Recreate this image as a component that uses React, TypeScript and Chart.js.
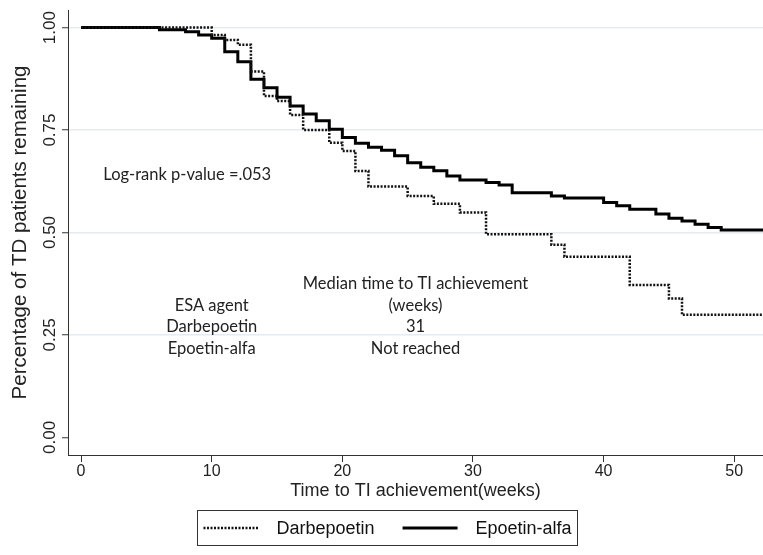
import React, { useEffect, useRef } from 'react';
import { Chart, registerables } from 'chart.js';

Chart.register(...registerables);

// Kaplan-Meier step data (time in weeks, proportion remaining)
const darbeTimes = [0, 10, 11, 12, 13, 14, 15, 16, 17, 19, 20, 21, 22, 25, 27, 29, 31, 36, 37, 42, 45, 46, 52.2];
const darbeSurv = [1.0, 0.982, 0.970, 0.958, 0.893, 0.833, 0.821, 0.787, 0.750, 0.719, 0.699, 0.650, 0.612, 0.589, 0.570, 0.549, 0.496, 0.470, 0.441, 0.372, 0.339, 0.299, 0.299];

const epoTimes = [0, 6, 8, 9, 10, 11, 12, 13, 14, 15, 16, 17, 18, 19, 20, 21, 22, 23, 24, 25, 26, 27, 28, 29, 31, 32, 33, 36, 37, 40, 41, 42, 44, 45, 46, 47, 48, 49, 52.2];
const epoSurv = [1.0, 0.995, 0.990, 0.982, 0.974, 0.941, 0.917, 0.874, 0.853, 0.830, 0.809, 0.789, 0.773, 0.752, 0.732, 0.718, 0.708, 0.701, 0.687, 0.670, 0.659, 0.651, 0.638, 0.628, 0.622, 0.616, 0.597, 0.589, 0.584, 0.573, 0.565, 0.557, 0.545, 0.535, 0.528, 0.520, 0.512, 0.506, 0.506];

const seriesNames = ['Darbepoetin', 'Epoetin-alfa'];
const xTicks = [0, 10, 20, 30, 40, 50];
const yTicks = [0, 0.25, 0.5, 0.75, 1.0];
const yTickLabels = ['0.00', '0.25', '0.50', '0.75', '1.00'];
const xTitle = 'Time to TI achievement(weeks)';
const yTitle = 'Percentage of TD patients remaining';

// In-plot annotations (data coordinates: week, proportion)
const noteTexts = ['Log-rank p-value =.053'];
const noteX = [1.7];
const noteY = [0.64];
const tableCol1 = ['ESA agent', 'Darbepoetin', 'Epoetin-alfa'];
const tableCol2 = ['Median time to TI achievement', '(weeks)', '31', 'Not reached'];
const tableCol1X = 10;
const tableCol2X = 25.6;
const tableCol1Y = [0.322, 0.269, 0.217];
const tableCol2Y = [0.376, 0.322, 0.269, 0.217];

const AXIS_FONT = "'Liberation Sans', Arial, sans-serif";
const NOTE_FONT = "Lato, 'Open Sans', sans-serif";

const toPoints = (xs: number[], ys: number[]) => xs.map((x, i) => ({ x, y: ys[i] }));

const overlayPlugin = {
  id: 'overlay',
  afterDraw(chart: any) {
    const ctx = chart.ctx as CanvasRenderingContext2D;
    const xs = chart.scales.x;
    const ys = chart.scales.y;
    ctx.save();
    // y tick labels (rotated)
    ctx.fillStyle = '#222';
    ctx.font = `17px ${AXIS_FONT}`;
    ctx.textAlign = 'center';
    ctx.textBaseline = 'middle';
    yTicks.forEach((v, i) => {
      const py = ys.getPixelForValue(v);
      ctx.save();
      ctx.translate(50, py);
      ctx.rotate(-Math.PI / 2);
      ctx.fillText(yTickLabels[i], 0, 0);
      ctx.restore();
    });

    // annotations
    ctx.font = `16.5px ${NOTE_FONT}`;
    ctx.fillStyle = '#222';
    ctx.textAlign = 'left';
    noteTexts.forEach((t, i) => {
      ctx.fillText(t, xs.getPixelForValue(noteX[i]), ys.getPixelForValue(noteY[i]));
    });
    ctx.textAlign = 'center';
    tableCol1.forEach((t, i) => {
      ctx.fillText(t, xs.getPixelForValue(tableCol1X), ys.getPixelForValue(tableCol1Y[i]));
    });
    tableCol2.forEach((t, i) => {
      ctx.fillText(t, xs.getPixelForValue(tableCol2X), ys.getPixelForValue(tableCol2Y[i]));
    });

    // legend
    ctx.font = `18px ${AXIS_FONT}`;
    ctx.textAlign = 'left';
    ctx.textBaseline = 'middle';
    const sampleW = 55;
    const gap1 = 18;
    const gap2 = 28;
    const pad = 6;
    const w0 = ctx.measureText(seriesNames[0]).width;
    const w1 = ctx.measureText(seriesNames[1]).width;
    const boxW = Math.round(pad + sampleW + gap1 + w0 + gap2 + sampleW + gap1 + w1 + pad);
    const cx = 387;
    const bx = Math.round(cx - boxW / 2) + 0.5;
    const by = 510.5;
    const bh = 35;
    ctx.strokeStyle = '#333';
    ctx.lineWidth = 1;
    ctx.strokeRect(bx, by, boxW, bh);
    const my = by + bh / 2;
    let px = bx + pad;
    ctx.strokeStyle = '#111';
    ctx.lineWidth = 2.5;
    ctx.setLineDash([2, 1.5]);
    ctx.beginPath();
    ctx.moveTo(px, my);
    ctx.lineTo(px + sampleW, my);
    ctx.stroke();
    ctx.setLineDash([]);
    px += sampleW + gap1;
    ctx.fillStyle = '#111';
    ctx.fillText(seriesNames[0], px, my + 1);
    px += w0 + gap2;
    ctx.strokeStyle = '#000';
    ctx.lineWidth = 3;
    ctx.beginPath();
    ctx.moveTo(px, my);
    ctx.lineTo(px + sampleW, my);
    ctx.stroke();
    px += sampleW + gap1;
    ctx.fillText(seriesNames[1], px, my + 1);
    ctx.restore();
  },
};

export default function App() {
  const ref = useRef<HTMLCanvasElement>(null);
  useEffect(() => {
    if (!ref.current) return;
    const chart = new Chart(ref.current, {
      type: 'line',
      data: {
        datasets: [
          {
            label: seriesNames[0],
            data: toPoints(darbeTimes, darbeSurv),
            borderColor: '#111',
            borderWidth: 2.5,
            borderDash: [2, 1.5],
            stepped: 'before',
            pointRadius: 0,
            fill: false,
          },
          {
            label: seriesNames[1],
            data: toPoints(epoTimes, epoSurv),
            borderColor: '#000',
            borderWidth: 3,
            stepped: 'before',
            pointRadius: 0,
            fill: false,
          },
        ],
      },
      options: {
        animation: false,
        responsive: false,
        maintainAspectRatio: false,
        devicePixelRatio: 1,
        layout: { padding: { top: 10, left: 0, right: 0, bottom: 50 } },
        plugins: { legend: { display: false }, tooltip: { enabled: false } },
        scales: {
          x: {
            type: 'linear',
            min: -1,
            max: 52.2,
            afterBuildTicks: (s: any) => {
              s.ticks = xTicks.map((v) => ({ value: v }));
            },
            afterFit: (s: any) => {
              s.height = 50;
            },
            grid: { drawOnChartArea: false, drawTicks: true, tickLength: 7, tickColor: '#333', tickWidth: 1 },
            border: { display: true, color: '#333', width: 1 },
            ticks: {
              font: { family: AXIS_FONT, size: 16 },
              color: '#222',
              padding: 0,
              maxRotation: 0,
              minRotation: 0,
              callback: (v: any) => String(v),
            },
            title: {
              display: true,
              text: xTitle,
              font: { family: AXIS_FONT, size: 18 },
              color: '#222',
              padding: { top: 0, bottom: 3 },
            },
          },
          y: {
            type: 'linear',
            min: -0.043,
            max: 1.043,
            afterBuildTicks: (s: any) => {
              s.ticks = yTicks.map((v) => ({ value: v }));
            },
            afterFit: (s: any) => {
              s.width = 68;
            },
            grid: {
              color: (c: any) => (c.tick && c.tick.value === 0 ? 'rgba(0,0,0,0)' : '#e4ecf1'),
              lineWidth: 1.5,
              drawTicks: true,
              tickLength: 6,
              tickColor: '#333',
              tickWidth: 1,
            },
            border: { display: true, color: '#333', width: 1 },
            ticks: { display: false },
            title: {
              display: true,
              text: yTitle,
              font: { family: AXIS_FONT, size: 20.5 },
              color: '#222',
              padding: { top: 8, bottom: 0 },
            },
          },
        },
      },
      plugins: [overlayPlugin],
    });
    return () => chart.destroy();
  }, []);
  return (
    <div style={{ position: 'absolute', left: 0, top: 0, width: 763, height: 555, background: '#fff' }}>
      <canvas ref={ref} width={763} height={555} style={{ display: 'block', width: 763, height: 555 }} />
    </div>
  );
}
